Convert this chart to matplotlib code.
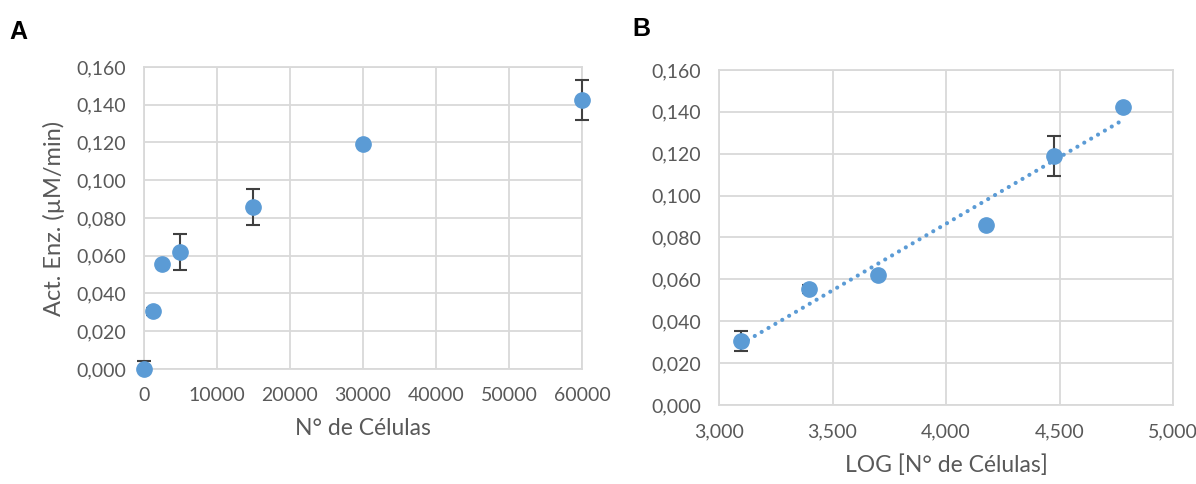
import numpy as np
import matplotlib
matplotlib.use("Agg")
import matplotlib.pyplot as plt
from matplotlib.ticker import FuncFormatter, MultipleLocator

# panel A data
cells = [0, 1250, 2500, 5000, 15000, 30000, 60000]
act_a = [0.000, 0.0305, 0.0555, 0.062, 0.086, 0.119, 0.1425]
err_a_lo = [0.0, 0.002, 0.0, 0.0095, 0.0095, 0.0, 0.0105]
err_a_hi = [0.004, 0.002, 0.0, 0.0095, 0.0095, 0.0, 0.0105]

# panel B data
log_cells = [3.097, 3.398, 3.699, 4.176, 4.477, 4.778]
act_b = [0.0305, 0.0555, 0.062, 0.086, 0.119, 0.1425]
err_b = [0.0047, 0.002, 0.0, 0.0, 0.0095, 0.0]

blue = "#5B9BD5"
grid = "#D9D9D9"
txt = "#595959"
plt.rcParams["font.family"] = ["Lato", "DejaVu Sans"]

fig = plt.figure(figsize=(11.96, 4.84), dpi=100)
ax_a = fig.add_axes([0.1204, 0.2376, 0.3662, 0.624])
ax_b = fig.add_axes([0.6012, 0.1632, 0.3796, 0.6922])

comma3 = FuncFormatter(lambda v, p: f"{v:.3f}".replace(".", ","))


def style(ax):
    ax.grid(True, color=grid, lw=1.3)
    ax.set_axisbelow(True)
    for s in ax.spines.values():
        s.set_color(grid)
        s.set_linewidth(1.3)
    ax.tick_params(length=0, labelsize=14, colors=txt, pad=13)
    ax.yaxis.set_major_formatter(comma3)
    ax.yaxis.set_major_locator(MultipleLocator(0.02))
    ax.set_ylim(0, 0.16)


# A
style(ax_a)
ax_a.errorbar(cells, act_a, yerr=[err_a_lo, err_a_hi], fmt="o", color=blue,
              ms=11, ecolor="#404040", elinewidth=1.5, capsize=5,
              capthick=1.5, clip_on=False, zorder=3)
ax_a.set_xlim(0, 60000)
ax_a.xaxis.set_major_locator(MultipleLocator(10000))
ax_a.xaxis.set_major_formatter(FuncFormatter(lambda v, p: f"{int(v)}"))
ax_a.set_xlabel("N° de Células", fontsize=16.5, color=txt, labelpad=10)
ax_a.set_ylabel("Act. Enz. (µM/min)", fontsize=17, color=txt, labelpad=8)

# B
style(ax_b)
ax_b.errorbar(log_cells, act_b, yerr=err_b, fmt="o", color=blue, ms=11,
              ecolor="#404040", elinewidth=1.5, capsize=5, capthick=1.5,
              clip_on=False, zorder=3)
k, b = np.polyfit(log_cells, act_b, 1)
xs = np.array([log_cells[0], log_cells[-1]])
ax_b.plot(xs, k * xs + b, ls=(0, (0.01, 1.9)), color=blue, lw=3.0,
          dash_capstyle="round", zorder=2)
ax_b.set_xlim(3, 5)
ax_b.xaxis.set_major_locator(MultipleLocator(0.5))
ax_b.xaxis.set_major_formatter(comma3)
ax_b.set_xlabel("LOG [N° de Células]", fontsize=16.5, color=txt, labelpad=10)

fig.text(0.008, 0.92, "A", fontsize=18, fontweight="bold",
         family="Liberation Sans")
fig.text(0.529, 0.925, "B", fontsize=18, fontweight="bold",
         family="Liberation Sans")

fig.savefig("out.png", dpi=100)
